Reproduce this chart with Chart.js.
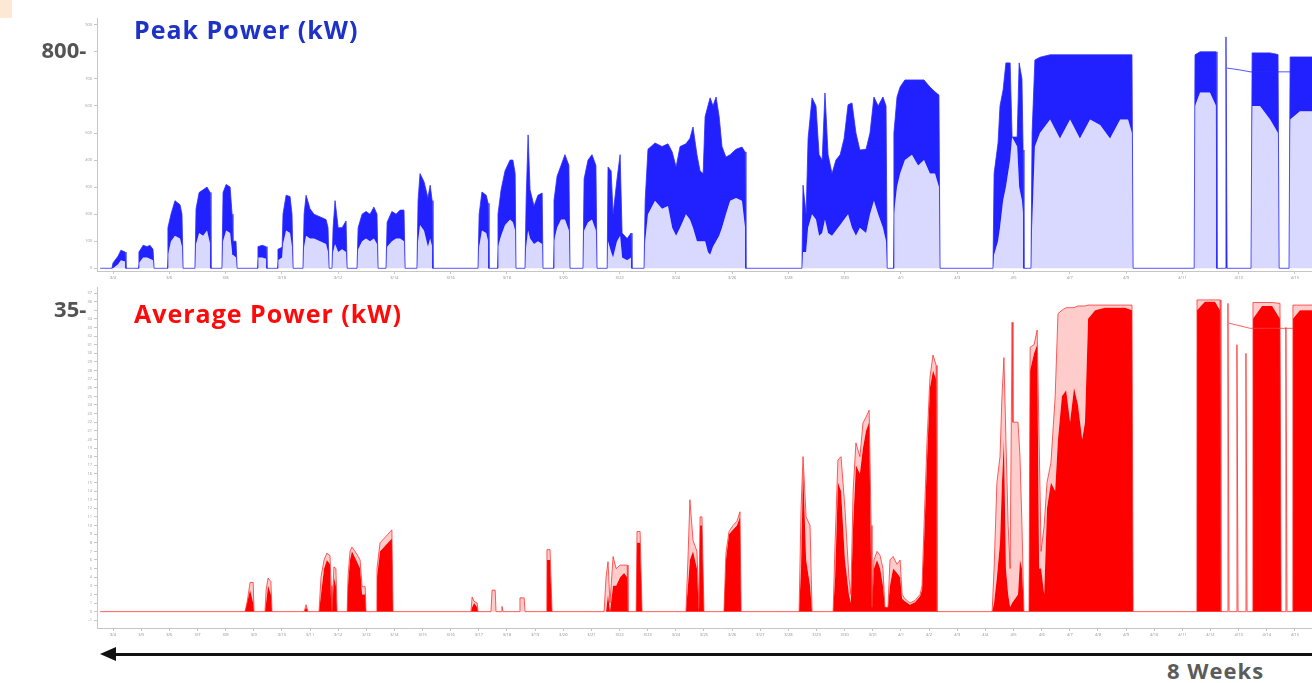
<!DOCTYPE html>
<html>
<head>
<meta charset="utf-8">
<title>Peak and Average Power</title>
<script src="https://cdn.jsdelivr.net/npm/chart.js@4.4.1/dist/chart.umd.min.js"></script>
<style>
  html, body { margin: 0; padding: 0; background: #fff; overflow: hidden; }
  #wrap { position: relative; width: 1312px; height: 683px; overflow: hidden;
          font-family: 'Open Sans', 'Noto Sans', sans-serif; }
  #wrap canvas { position: absolute; left: 0; }
  #peakCanvas { top: 0; }
  #avgCanvas { top: 280px; }
  .title { position: absolute; left: 134px; font-weight: 700; font-size: 25px; letter-spacing: 1px;
           line-height: 26px; white-space: nowrap; }
  #peakTitle { top: 16px; color: #1e32c8; }
  #avgTitle { top: 300px; color: #ff0a0a; }
  #tab { position: absolute; left: 0; top: 0; width: 12px; height: 18px; background: #fde8d6; }
  #arrowLine { position: absolute; left: 112px; top: 653px; width: 1220px; height: 3px; background: #111; }
  #arrowHead { position: absolute; left: 100px; top: 647px; width: 0; height: 0;
               border-top: 7px solid transparent; border-bottom: 7px solid transparent;
               border-right: 16px solid #111; }
  #weeks { position: absolute; left: 1167px; top: 657px; font-weight: 700; font-size: 22px;
           letter-spacing: 1px; line-height: 26px; color: #5b5b5b; white-space: nowrap; }
</style>
</head>
<body>
<div id="wrap">
  <div id="tab"></div>
  <canvas id="peakCanvas" width="1345" height="285"></canvas>
  <canvas id="avgCanvas" width="1345" height="362"></canvas>
  <div class="title" id="peakTitle">Peak Power (kW)</div>
  <div class="title" id="avgTitle">Average Power (kW)</div>
  <div id="arrowLine"></div>
  <div id="arrowHead"></div>
  <div id="weeks">8 Weeks</div>
</div>
<script>
// time axis in days from the first logged midnight
const X_MIN = -0.57;
const X_MAX = 43.78;
const START = new Date(2013, 2, 4);

// ---- peak power (kW): max of each interval and lower edge of the dense band
const peakTime = [
  -0.46, -0.04, 0.00, 0.18, 0.28, 0.43, 0.46, 0.89, 0.92, 1.07, 1.21, 1.31, 1.42, 1.46,
  1.92, 1.95, 2.06, 2.20, 2.38, 2.45, 2.49, 2.91, 2.95, 3.06, 3.20, 3.34, 3.45, 3.48,
  3.87, 3.91, 4.02, 4.16, 4.23, 4.26, 4.37, 4.41, 5.12, 5.15, 5.30, 5.44, 5.47,
  5.83, 5.86, 6.01, 6.04, 6.15, 6.29, 6.36, 6.40, 6.75, 6.79, 6.86, 7.00, 7.14, 7.36, 7.57, 7.64, 7.68,
  7.78, 7.82, 7.89, 8.00, 8.14, 8.28, 8.32, 8.67, 8.71, 8.85, 8.99, 9.13, 9.27, 9.38, 9.42,
  9.70, 9.74, 9.91, 10.06, 10.20, 10.34, 10.38, 10.80, 10.84, 10.91, 11.05, 11.19, 11.27, 11.34, 11.37,
  12.97, 13.01, 13.11, 13.26, 13.33, 13.36, 13.65, 13.68, 13.79, 13.93, 14.11, 14.21, 14.29, 14.32,
  14.64, 14.68, 14.75, 14.82, 14.96, 15.10, 15.25, 15.28, 15.64, 15.67, 15.78, 15.92, 16.06, 16.20, 16.24,
  16.70, 16.74, 16.88, 17.02, 17.16, 17.20, 17.56, 17.59, 17.70, 17.77, 17.91, 18.02, 18.09, 18.27, 18.41, 18.44,
  18.87, 18.91, 19.01, 19.26, 19.51, 19.72, 19.87, 20.01, 20.15, 20.36, 20.50, 20.61, 20.75, 20.86, 20.97,
  21.04, 21.14, 21.22, 21.32, 21.43, 21.54, 21.64, 21.78, 21.93, 22.14, 22.35, 22.46, 22.49,
  24.48, 24.52, 24.63, 24.70, 24.84, 24.98, 25.09, 25.20, 25.30, 25.41, 25.55, 25.69, 25.84, 25.98, 26.12,
  26.26, 26.40, 26.54, 26.76, 26.90, 27.04, 27.19, 27.36, 27.47, 27.51,
  27.72, 27.75, 27.86, 27.97, 28.14, 28.39, 28.61, 28.82, 29.03, 29.21, 29.35, 29.39,
  31.27, 31.31, 31.45, 31.52, 31.63, 31.73, 31.88, 31.95, 32.13, 32.20, 32.30, 32.34, 32.37,
  32.62, 32.66, 32.76, 32.94, 33.30, 33.65, 34.01, 34.36, 34.72, 35.08, 35.43, 35.79, 36.07, 36.21, 36.25,
  38.42, 38.45, 38.63, 38.98, 39.20, 39.23, 39.52, 39.55, 39.59, 40.44,
  40.48, 40.76, 41.12, 41.40, 41.44, 41.79, 41.83, 42.18, 42.61, 43.78
];
const peakMax = [
  0, 0, 20, 45, 67, 60, 0, 0, 60, 85, 80, 85, 70, 0,
  0, 150, 200, 250, 235, 200, 0, 0, 220, 280, 290, 300, 280, 0,
  0, 280, 310, 300, 200, 100, 100, 0, 0, 80, 85, 80, 0,
  0, 70, 78, 200, 270, 265, 200, 0, 0, 200, 270, 220, 200, 190, 180, 150, 0,
  0, 150, 250, 150, 150, 175, 0, 0, 150, 200, 210, 200, 226, 200, 0,
  0, 170, 210, 200, 215, 215, 0, 0, 250, 350, 320, 260, 307, 250, 0,
  0, 200, 282, 270, 240, 0, 0, 200, 290, 360, 400, 400, 350, 0,
  0, 250, 493, 290, 230, 270, 278, 0, 0, 250, 340, 380, 420, 380, 0,
  0, 330, 400, 420, 380, 0, 0, 374, 360, 200, 330, 420, 130, 110, 130, 0,
  0, 250, 440, 463, 450, 460, 430, 374, 450, 460, 480, 522, 420, 360, 350,
  560, 600, 630, 600, 633, 560, 450, 411, 420, 440, 448, 430, 0,
  0, 307, 200, 480, 630, 600, 420, 400, 648, 420, 350, 400, 420, 480, 604,
  611, 500, 437, 440, 500, 633, 600, 633, 600, 0,
  0, 500, 633, 670, 696, 696, 696, 696, 670, 652, 640, 0,
  0, 350, 463, 600, 659, 759, 759, 485, 485, 759, 700, 437, 0,
  0, 500, 770, 780, 789, 789, 789, 789, 789, 789, 789, 789, 789, 789, 0,
  0, 789, 800, 800, 800, 0, 0, 855, 0, 0,
  796, 796, 796, 790, 0, 0, 781, 781, 781, 781
];
const peakDense = [
  0, 0, 0, 15, 30, 25, 0, 0, 20, 40, 40, 35, 30, 0,
  0, 50, 100, 120, 110, 80, 0, 0, 90, 130, 120, 140, 90, 0,
  0, 100, 140, 130, 60, 50, 40, 0, 0, 40, 40, 35, 0,
  0, 30, 40, 90, 140, 130, 80, 0, 0, 80, 120, 110, 110, 100, 90, 60, 0,
  0, 60, 90, 60, 70, 60, 0, 0, 70, 100, 110, 100, 110, 90, 0,
  0, 80, 100, 110, 110, 100, 0, 0, 100, 160, 140, 80, 110, 80, 0,
  0, 80, 140, 130, 100, 0, 0, 80, 120, 160, 180, 170, 140, 0,
  0, 80, 140, 110, 90, 100, 90, 0, 0, 100, 150, 180, 180, 140, 0,
  0, 140, 170, 180, 140, 0, 0, 100, 60, 40, 100, 120, 40, 30, 40, 0,
  0, 100, 200, 250, 220, 230, 150, 120, 150, 200, 180, 150, 100, 100, 100,
  100, 60, 50, 80, 100, 120, 150, 200, 250, 260, 250, 150, 0,
  0, 60, 60, 150, 200, 180, 120, 130, 180, 130, 120, 140, 160, 180, 200,
  150, 120, 150, 130, 200, 250, 200, 150, 100, 0,
  0, 200, 300, 350, 400, 420, 380, 400, 350, 350, 300, 0,
  0, 50, 100, 150, 250, 300, 400, 485, 450, 300, 250, 200, 0,
  0, 150, 450, 500, 550, 480, 550, 480, 550, 530, 480, 550, 550, 500, 0,
  0, 600, 650, 650, 600, 0, 0, 0, 0, 0,
  600, 600, 550, 500, 0, 0, 550, 580, 580, 580
];
// level held by the logger between the last blocks
const peakHoldTime = [39.59, 40.05, 40.41, 41.83];
const peakHold = [740, 733, 726, 726];

// ---- average power (kW): max of each interval and top of the solid band
const avgTime = [
  -0.46, 4.69, 4.76, 4.87, 4.98, 5.01, 5.40, 5.44, 5.51, 5.61, 5.65, 6.79, 6.86, 6.93,
  7.32, 7.39, 7.50, 7.60, 7.71, 7.75, 7.78, 7.85, 7.92, 7.96,
  8.32, 8.35, 8.42, 8.49, 8.64, 8.78, 8.85, 8.96, 8.99, 9.35, 9.38, 9.49, 9.63, 9.77, 9.91, 9.95,
  12.72, 12.76, 12.83, 12.94, 12.97, 13.43, 13.47, 13.58, 13.61, 13.79, 13.82, 13.86,
  14.43, 14.46, 14.61, 14.64, 15.39, 15.42, 15.53, 15.60,
  17.45, 17.52, 17.59, 17.66, 17.77, 17.88, 18.02, 18.16, 18.27, 18.30, 18.59, 18.62, 18.73, 18.80,
  20.36, 20.43, 20.50, 20.61, 20.75, 20.82, 20.86, 20.93, 21.00,
  21.71, 21.78, 21.89, 22.03, 22.17, 22.28, 22.32,
  24.38, 24.45, 24.52, 24.63, 24.77, 24.84,
  25.59, 25.66, 25.76, 25.87, 26.01, 26.15, 26.22, 26.30, 26.40, 26.54, 26.65, 26.76, 26.87, 26.94,
  26.97, 27.04, 27.15, 27.26, 27.36, 27.43, 27.54, 27.61, 27.72, 27.86, 27.97, 28.04,
  28.14, 28.32, 28.50, 28.68, 28.75, 28.82, 28.93, 29.03, 29.14, 29.25, 29.28,
  31.24, 31.31, 31.41, 31.52, 31.59, 31.66, 31.73, 31.81, 31.88, 31.95, 31.98, 32.16, 32.23, 32.30, 32.37,
  32.55, 32.59, 32.73, 32.84, 32.91, 32.98, 33.09, 33.19, 33.33, 33.48, 33.58, 33.72, 33.87, 34.01,
  34.15, 34.29, 34.44, 34.54, 34.65, 34.90, 35.25, 35.61, 35.97, 36.21, 36.25,
  38.49, 38.52, 38.80, 39.16, 39.34, 39.37, 39.59, 39.62, 39.66,
  39.91, 39.94, 39.98, 40.23, 40.26, 40.30, 40.48,
  40.51, 40.83, 41.19, 41.47, 41.51, 41.65, 41.68, 41.72, 41.90, 41.93, 42.18, 42.61, 43.78
];
const avgMax = [
  0, 0, 1, 3.4, 3.4, 0, 0, 2.5, 3.9, 3.5, 0, 0, 0.8, 0,
  0, 4, 6, 6.8, 6.5, 3, 0, 5.2, 5, 0,
  0, 4, 7, 7.5, 6.8, 6, 2.9, 2.9, 0, 0, 5, 8, 8.5, 9, 9.5, 0,
  0, 1.7, 1.2, 1.0, 0, 0, 2.5, 2.5, 0, 0, 0.6, 0,
  0, 1.6, 1.6, 0, 0, 7.2, 7.2, 0,
  0, 4, 5.8, 1, 6.4, 5, 5.4, 5.4, 5.4, 0, 0, 9.3, 9.3, 0,
  0, 6, 13, 8.3, 7, 0.5, 11, 11, 0,
  0, 6.8, 9.3, 10, 10.5, 11.6, 0,
  0, 12, 18, 11, 10, 0,
  0, 8, 17.6, 18, 12, 4, 2, 14, 19.6, 18, 21.9, 22.6, 23.4, 10,
  0.5, 6, 7, 6.5, 5, 0.5, 0.5, 6, 6.4, 5.5, 6, 2,
  1.5, 1.0, 1.3, 2, 3, 10, 20, 27.2, 29.8, 28.6, 0,
  0, 5, 15, 18, 25, 29.5, 20, 10, 5, 33.6, 22, 22, 18, 10, 0,
  0, 30.7, 31, 32.7, 20, 7, 10, 15, 17.3, 25, 34.6, 35, 35.3, 35.3,
  35.3, 35.5, 35.5, 35.5, 35.6, 35.6, 35.6, 35.6, 35.6, 35.6, 0,
  0, 36.2, 36.2, 36.2, 36.2, 0, 0, 35.8, 0,
  0, 31, 0, 0, 30, 0, 0,
  35.9, 35.9, 35.9, 35.8, 0, 0, 33, 0, 0, 35.6, 35.6, 35.6, 35.6
];
const avgCore = [
  0, 0, 1, 2.5, 1, 0, 0, 1, 3, 2, 0, 0, 0.5, 0,
  0, 2, 5, 6, 5.5, 1, 0, 4, 3, 0,
  0, 3, 6, 7, 6, 5, 2, 2, 0, 0, 4, 7, 7.5, 8, 8.5, 0,
  0, 0.5, 1, 0.5, 0, 0, 0, 0, 0, 0, 0, 0,
  0, 0, 0, 0, 0, 6, 6, 0,
  0, 0, 2, 0, 3, 3, 4, 4.5, 4, 0, 0, 8, 8, 0,
  0, 3, 6, 7, 5, 0, 10, 10, 0,
  0, 6, 9, 9.5, 10, 11, 0,
  0, 5, 17, 6, 3, 0,
  0, 4, 15, 14, 6, 2, 1, 10, 17, 16, 19, 21, 22, 5,
  0.5, 5, 6, 5, 3, 0.5, 0.5, 3, 5, 4.5, 4, 1.5,
  1.2, 0.8, 1.1, 1.8, 2.5, 8, 18, 26, 28, 27, 0,
  0, 1, 4, 8, 15, 20, 5, 2, 0.5, 1, 1, 2, 6, 5, 0,
  0, 28, 30, 31, 5, 5, 2, 12, 15, 14, 20, 25, 25.7, 22,
  26, 24, 20, 22, 34, 35, 35.3, 35.3, 35.3, 35, 0,
  0, 35, 36, 36, 35, 0, 0, 0, 0,
  0, 0, 0, 0, 0, 0, 0,
  34, 35.5, 35.5, 34, 0, 0, 0, 0, 0, 34, 35, 35, 35
];
const avgHoldTime = [39.66, 40.41, 41.93];
const avgHold = [33.5, 32.9, 32.9];

const pts = (t, v) => t.map((x, i) => ({ x: x, y: v[i] }));

function dayLabel(v) {
  const d = new Date(START.getTime() + v * 86400000);
  return (d.getMonth() + 1) + '/' + d.getDate();
}

const FONT = "'Open Sans', 'Noto Sans', sans-serif";
const AXIS_GREY = '#c6c6c6';

function buildPanel(id, datasets, y) {
  return new Chart(document.getElementById(id), {
    type: 'line',
    data: { datasets: datasets },
    options: {
      responsive: false,
      animation: false,
      events: [],
      layout: { padding: { top: y.padTop, right: 0, bottom: 0, left: 0 } },
      plugins: { legend: { display: false }, tooltip: { enabled: false } },
      elements: { point: { radius: 0 }, line: { tension: 0 } },
      scales: {
        x: {
          type: 'linear',
          min: X_MIN,
          max: X_MAX,
          border: { color: AXIS_GREY },
          grid: { drawOnChartArea: false, tickLength: 3, color: AXIS_GREY },
          ticks: {
            stepSize: y.xStep,
            includeBounds: false,
            autoSkip: false,
            maxRotation: 0,
            padding: 1,
            font: { family: FONT, size: 4 },
            color: '#8c8c8c',
            callback: dayLabel
          },
          afterFit: (s) => { s.height = 14; }
        },
        y: {
          min: y.min,
          max: y.max,
          border: { color: AXIS_GREY },
          grid: { drawOnChartArea: false, tickLength: 3, color: AXIS_GREY },
          ticks: {
            stepSize: y.step,
            includeBounds: false,
            autoSkip: false,
            padding: 2,
            callback: (v) => (v === y.big ? v + '- ' : v),
            font: (c) => (c.tick && c.tick.value === y.big
              ? { family: FONT, size: 22, weight: 'bold' }
              : { family: FONT, size: 4 }),
            color: (c) => (c.tick && c.tick.value === y.big ? '#545454' : '#9a9a9a')
          },
          afterFit: (s) => { s.width = 97; }
        }
      }
    }
  });
}

// top panel: peak demand
buildPanel('peakCanvas', [
  { data: pts(peakHoldTime, peakHold), borderColor: 'rgba(40,40,255,0.8)', borderWidth: 1, fill: false },
  { data: pts(peakTime, peakMax), borderColor: 'rgba(45,45,255,0.8)', borderWidth: 1,
    backgroundColor: '#2121ff', fill: '+1' },
  { data: pts(peakTime, peakDense), borderWidth: 0,
    backgroundColor: 'rgba(80,80,255,0.22)', fill: 'origin' }
], { min: -10, max: 925, step: 100, big: 800, padTop: 18, xStep: 2 });

// bottom panel: average demand
buildPanel('avgCanvas', [
  { data: pts(avgHoldTime, avgHold), borderColor: 'rgba(255,60,60,0.8)', borderWidth: 1, fill: false },
  { data: pts(avgTime, avgMax), borderColor: 'rgba(255,40,40,0.75)', borderWidth: 1,
    backgroundColor: 'rgba(255,0,0,0.2)', fill: '+1' },
  { data: pts(avgTime, avgCore), borderWidth: 0,
    backgroundColor: '#ff0000', fill: 'origin' }
], { min: -1.9, max: 37.7, step: 1, big: 35, padTop: 7, xStep: 1 });
</script>
</body>
</html>
